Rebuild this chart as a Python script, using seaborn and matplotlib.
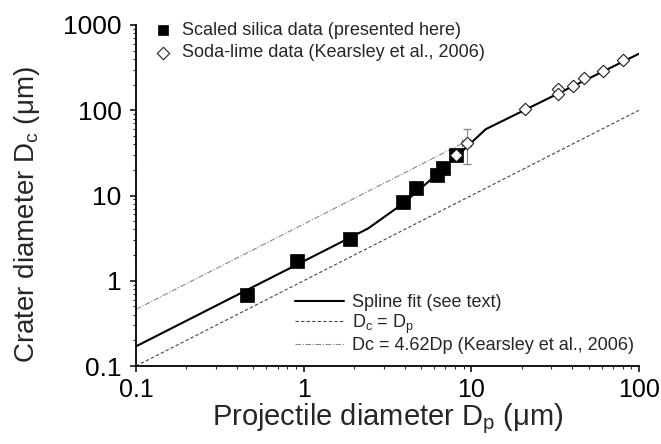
import numpy as np
import pandas as pd
import matplotlib
matplotlib.use('Agg')
import matplotlib.pyplot as plt
import seaborn as sns

# Scaled silica data (filled squares)
silica_dp = [0.46, 0.91, 1.89, 3.91, 4.67, 6.24, 6.77, 8.1]
silica_dc = [0.68, 1.69, 3.12, 8.28, 12.1, 17.6, 21.2, 30.2]
silica_dp_err = [0.02, 0.04, 0.08, 0.2, 0.25, 0.3, 0.35, 0.6]
silica_dc_err = [0.08, 0.15, 0.25, 1.2, 1.5, 2.5, 3.0, 5.0]

# Soda-lime data, Kearsley et al. 2006 (open diamonds)
soda_dp = [8.1, 9.4, 20.9, 32.8, 32.8, 40.4, 46.9, 60.9, 80.2]
soda_dc = [30.2, 41.7, 104, 178, 156, 193, 240, 290, 389]
soda_dp_err = [0.4, 0.6, 0.8, 1.0, 1.0, 1.2, 1.5, 2.0, 2.5]
soda_dc_err = [4.0, 18.0, 6.0, 12.0, 10.0, 10.0, 12.0, 14.0, 18.0]

# Spline fit vertices
spline_dp = [0.1, 2.42, 3.9, 6.3, 8.8, 12.2, 100]
spline_dc = [0.17, 4.1, 8.0, 18.0, 33.0, 60.0, 460.0]

# Reference lines
ref_dp = [0.1, 100]
kearsley_dp = [0.1, 10]
kearsley_factor = 4.62

sns.set_style('ticks')
plt.rcParams['font.family'] = ['Liberation Sans', 'DejaVu Sans']
plt.rcParams['mathtext.default'] = 'regular'

W, H = 661, 444
fig = plt.figure(figsize=(W / 100, H / 100), dpi=100)
ax = fig.add_axes([136 / W, 1 - 366 / H, (639 - 136) / W, (366 - 25) / H])
ax.set_xscale('log')
ax.set_yscale('log')

# lines
sns.lineplot(x=spline_dp, y=spline_dc, ax=ax, color='black', lw=1.5,
             label='Spline fit (see text)', zorder=2)
sns.lineplot(x=ref_dp, y=ref_dp, ax=ax, color='#444444', lw=0.8,
             linestyle=(0, (3, 2)), label='D$_c$ = D$_p$', zorder=1)
sns.lineplot(x=kearsley_dp, y=[kearsley_factor * d for d in kearsley_dp], ax=ax,
             color='#888888', lw=0.8, linestyle=(0, (5, 1.5, 1, 1.5)),
             label='Dc = 4.62Dp (Kearsley et al., 2006)', zorder=1)

# error bars
ax.errorbar(silica_dp, silica_dc, xerr=silica_dp_err, yerr=silica_dc_err,
            fmt='none', ecolor='#888888', elinewidth=0.8, capsize=3, zorder=2)
ax.errorbar(soda_dp, soda_dc, xerr=soda_dp_err, yerr=soda_dc_err,
            fmt='none', ecolor='#888888', elinewidth=0.8, capsize=3, zorder=2)

# markers
sns.scatterplot(x=silica_dp, y=silica_dc, ax=ax, marker='s', s=110, color='black',
                edgecolor='black', linewidth=0.5, zorder=3,
                label='Scaled silica data (presented here)')
sns.scatterplot(x=soda_dp, y=soda_dc, ax=ax, marker='D', s=40, facecolor='white',
                edgecolor='#222222', linewidth=0.8, zorder=4,
                label='Soda-lime data (Kearsley et al., 2006)')

ax.set_xlim(0.1, 100)
ax.set_ylim(0.1, 1000)
ax.set_xticks([0.1, 1, 10, 100], labels=['0.1', '1', '10', '100'])
ax.set_yticks([0.1, 1, 10, 100, 1000], labels=['0.1', '1', '10', '100', '1000'])
ax.tick_params(which='major', direction='out', length=4.5, width=1.1, colors='black')
ax.tick_params(which='minor', direction='out', length=2.5, width=0.8)
ax.tick_params(axis='x', which='major', labelsize=18, pad=4)
ax.tick_params(axis='y', which='major', labelsize=19, pad=6)
sns.despine(ax=ax)
for sp in ['left', 'bottom']:
    ax.spines[sp].set_linewidth(1.3)
    ax.spines[sp].set_color('black')

ax.set_xlabel('Projectile diameter D$_p$ (μm)', fontsize=21, labelpad=0)
ax.set_ylabel('Crater diameter D$_c$ (μm)', fontsize=20)
ax.yaxis.set_label_coords(-0.187, 0.443)

handles, labels = ax.get_legend_handles_labels()
hmap = dict(zip(labels, handles))
top_labels = ['Scaled silica data (presented here)', 'Soda-lime data (Kearsley et al., 2006)']
bot_labels = ['Spline fit (see text)', 'D$_c$ = D$_p$', 'Dc = 4.62Dp (Kearsley et al., 2006)']

leg1 = ax.legend([hmap[l] for l in top_labels], top_labels, loc='upper left',
                 bbox_to_anchor=(154 / W, 1 - 22 / H), bbox_transform=fig.transFigure,
                 frameon=False, fontsize=13, handlelength=1.0, handletextpad=0.55,
                 labelspacing=0.3, borderpad=0, borderaxespad=0)
leg1.legend_handles[0].set_sizes([45])
leg1.legend_handles[1].set_sizes([40])
ax.add_artist(leg1)
ax.legend([hmap[l] for l in bot_labels], bot_labels, loc='upper left',
          bbox_to_anchor=(295 / W, 1 - 294 / H), bbox_transform=fig.transFigure,
          frameon=False, fontsize=13, handlelength=2.7, handletextpad=0.45,
          labelspacing=0.08, borderpad=0, borderaxespad=0)

fig.savefig('out.png', dpi=100)
